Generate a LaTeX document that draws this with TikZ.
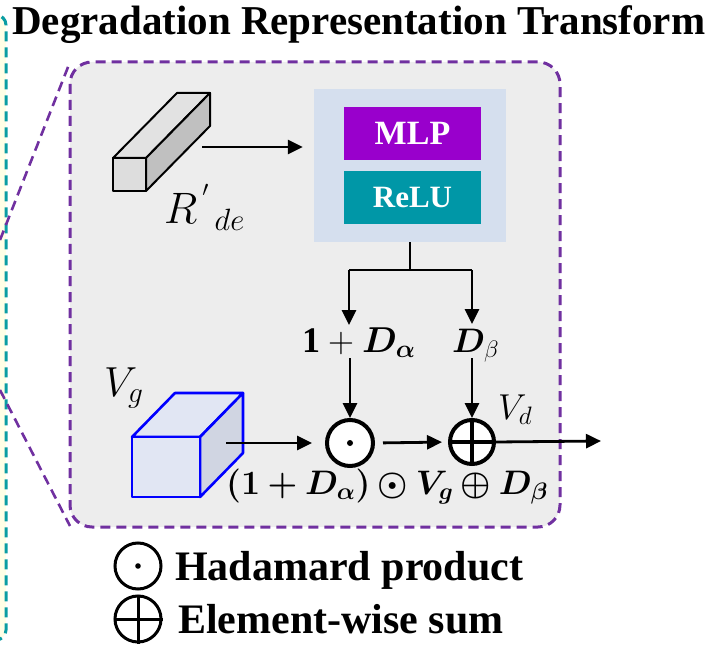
\documentclass[tikz,border=0pt]{standalone}
\usepackage{fix-cm}
\usepackage{amsmath,bm}
\usepackage{fontspec}
\setmainfont{Liberation Serif}
\usetikzlibrary{arrows.meta}
\definecolor{purpD}{HTML}{7030A0}
\definecolor{tealD}{HTML}{0A9DA3}
\definecolor{yelF}{HTML}{FFFFE6}
\definecolor{grayF}{HTML}{EDEDED}
\definecolor{blueF}{HTML}{D5DFEE}
\definecolor{mlpF}{HTML}{9900CC}
\definecolor{reluF}{HTML}{0097A7}
\definecolor{cubeFront}{HTML}{E1E6F3}
\definecolor{cubeSide}{HTML}{D0D5E2}
\definecolor{barFront}{HTML}{DDDDDD}
\definecolor{barTop}{HTML}{E2E2E2}
\definecolor{barSide}{HTML}{C0C0C0}
\tikzset{
 dashpurp/.style={draw=purpD, line width=3pt, dash pattern=on 10pt off 6pt},
 arr/.style={line width=2.8pt, -{Triangle[length=15pt,width=14pt]}},
 conn/.style={line width=2.8pt},
 txt/.style={inner sep=0pt, anchor=base west},
 opnode/.style={circle, draw, line width=4pt, minimum size=46pt, inner sep=0pt, fill=white},
 legnode/.style={circle, draw, line width=3pt, minimum size=46pt, inner sep=0pt},
 barface/.style={draw=black, line width=2pt, line join=round},
 cubeface/.style={draw=blue, line width=2.6pt, line join=round},
 blockbox/.style={minimum width=137pt, minimum height=53pt, inner sep=0pt, text=white, font=\fontsize{34}{34}\selectfont\bfseries},
}
\begin{document}
\begin{tikzpicture}[x=1pt,y=-1pt]
\useasboundingbox (0,0) rectangle (709,652);
% left frame (cut off)
\fill[yelF, rounded corners=10pt] (-30,15) -- (6,15) -- (6,640) -- (-30,640) -- cycle;
\draw[tealD, line width=3pt, dash pattern=on 10pt off 6pt, rounded corners=10pt] (-30,15) -- (6,15) -- (6,640) -- (-30,640);
% zoom lines
\draw[dashpurp, line width=2.6pt] (0,240) -- (70,62);
\draw[dashpurp, line width=2.6pt] (0,390) -- (70,526);
% main box
\draw[dashpurp, fill=grayF, rounded corners=22pt] (70,62) rectangle (560,527);
% title
\node[txt, font=\fontsize{41}{45}\selectfont\bfseries] (title) at (12,35) {Degradation Representation Transform};
% bar R'
\path[barface, fill=barTop] (113,158) -- (177,93) -- (210,93) -- (146,158) -- cycle;
\path[barface, fill=barSide] (146,158) -- (210,93) -- (210,126) -- (146,191) -- cycle;
\path[barface, fill=barFront] (113,158) rectangle (146,191);
\coordinate (barR) at (202,147);
\node[txt, font=\fontsize{44}{44}\selectfont] (rlab) at (164,224) {$R^{\,'}{}_{\,de}$};
% block
\node[fill=blueF, minimum width=192pt, minimum height=153pt, inner sep=0pt] (blk) at (410,165.5) {};
\node[blockbox, fill=mlpF] (mlp) at (412.5,133.5) {MLP};
\node[blockbox, fill=reluF, font=\fontsize{31}{31}\selectfont\bfseries] (relu) at (412.5,197.5) {ReLU};
\draw[arr, shorten >=11pt] (barR) -- (blk.west |- barR);
% branch
\coordinate (bL) at (349,270);
\coordinate (bR) at (472,270);
\draw[conn] (blk.south) -- (blk.south |- bL);
\draw[conn] (bL) -- (bR);
% labels
\node[txt, font=\fontsize{36}{36}\selectfont] (alab) at (302,352) {$\mathbf{1}+\bm{D_\alpha}$};
\node[txt, font=\fontsize{34}{34}\selectfont] (blab) at (452,352) {$\bm{D}_\beta$};
% operators
\node[opnode] (odot) at (350,443) {};
\fill (odot.center) circle (3pt);
\node[opnode, minimum size=44pt] (oplus) at (472,442) {};
\draw[line width=3.6pt] (oplus.north) -- (oplus.south) (oplus.west) -- (oplus.east);
\draw[arr] (bL) -- (bL |- 0,325);
\draw[arr] (bR) -- (bR |- 0,324);
\draw[arr] (odot |- 0,358) -- (odot.north);
\draw[arr] (oplus |- 0,358) -- (oplus.north);
% cube
\path[cubeface, fill=cubeFront] (132,437) -- (175,393) -- (243,393) -- (200,437) -- cycle;
\path[cubeface, fill=cubeSide] (200,437) -- (243,393) -- (243,453) -- (200,497) -- cycle;
\path[cubeface, fill=cubeFront] (132,437) rectangle (200,497);
\coordinate (cubeR) at (226,443);
\node[txt, font=\fontsize{42}{42}\selectfont] (vg) at (104,396) {$V_g$};
\draw[arr, shorten >=13pt] (cubeR) -- (odot.west);
\draw[arr, shorten <=8pt, shorten >=6pt] (odot.east) -- (oplus.west);
\coordinate (outR) at (601,441);
\draw[arr] (oplus.east) -- (outR);
\node[txt, font=\fontsize{36}{36}\selectfont] (vd) at (498,419) {$V_d$};
\node[txt, font=\fontsize{34}{34}\selectfont] (form) at (226,494) {$\boldsymbol{(1+D_\alpha)\odot V_g\oplus D_\beta}$};
% legend
\node[legnode] (lgo) at (138,566) {};
\fill (lgo.center) circle (2.8pt);
\node[legnode] (lgp) at (138,619) {};
\draw[line width=3pt] (lgp.north) -- (lgp.south) (lgp.west) -- (lgp.east);
\node[txt, font=\fontsize{42}{42}\selectfont\bfseries] (lg1) at (175,580) {Hadamard product};
\node[txt, font=\fontsize{42}{42}\selectfont\bfseries] (lg2) at (178,633) {Element-wise sum};
\end{tikzpicture}
\end{document}
